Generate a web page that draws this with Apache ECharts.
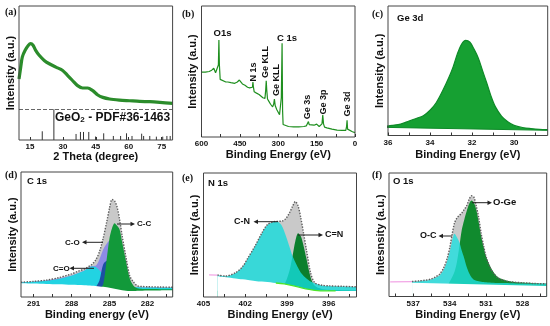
<!DOCTYPE html>
<html><head><meta charset="utf-8">
<script src="https://cdn.jsdelivr.net/npm/echarts@6/dist/echarts.min.js"></script>
<style>html,body{margin:0;padding:0;background:#fff}#c{width:550px;height:326px}</style>
</head><body><div id="c"></div>
<script>
// ---------- (a) XRD ----------
const aX = [10, 10.8, 11.5, 12.8, 14.3, 15.3, 16.4, 17.6, 19.2, 21.5, 23.8, 26.8, 29.9, 32.2, 34.4, 36.7, 39.0, 41.3, 43.6, 45.9, 48.2, 51.3, 55.8, 60.4, 65.0, 69.6, 74.2, 80];
const aY = [45.6, 54.4, 61.9, 66.9, 70.7, 71.9, 70.7, 66.9, 63.2, 59.4, 56.9, 54.4, 51.9, 48.1, 44.4, 40.6, 38.8, 38.8, 36.8, 33.6, 31.8, 30.6, 29.8, 29.3, 28.8, 28.6, 28.1, 27.3];
const pdfPos = [20.6, 25.9, 36.0, 38.0, 39.4, 41.8, 44.9, 48.6, 53.0, 56.3, 59.0, 61.5, 65.9, 66.8, 69.6, 72.6, 75.5, 77.4, 78.9];
const pdfH = [6.5, 23, 4.5, 6, 6, 6, 2.6, 5, 3, 3, 5, 3, 4.7, 3, 3, 2.5, 2.5, 3, 3];
const aRefLine = 23;
const aTicks = [15, 30, 45, 60, 75];

// ---------- (b) XPS survey ----------
const bX = [600,585,570,560,552,545,538,534,532,530,527,520,505,500,497,490,485,470,460,452,448,440,430,420,412,405,401,399,397,394,385,375,368,360,352,349,347,345,342,336,330,322,318,315,312,306,300,295,291,288,285,283,281,275,260,240,220,200,190,185,182,179,175,160,150,140,134,129,126,123,119,110,90,70,50,36,33,31,29,25,10,0];
const bY = [49.5,49.5,50,51,52.5,49,48.5,55,74,55,44,43,42,43.5,42,42.5,41.5,41,42,43.5,42,40.5,39.5,38,37.5,36,38,42,38,34.5,33.5,32.5,32,30,29.5,36,43,36,29,27,25,23,25,29,24,21,19.5,17,16,30,71.5,20,9.5,9,8,7.8,7.8,8,8.5,10,11.8,9.5,8.5,9,9.8,8,7.5,10,16.7,10,7.5,7,6,5.2,5,5,8,12.8,6,4.6,4,3.3];
const bTicks = [600, 525, 450, 375, 300, 225, 150, 75, 0];
const bLabels = [600, 450, 300, 150, 0];

// ---------- (c) Ge 3d ----------
const cX = [36.2, 35.8, 35.4, 35.0, 34.6, 34.3, 34.0, 33.7, 33.4, 33.1, 32.9, 32.7, 32.5, 32.3, 32.1, 31.9, 31.7, 31.5, 31.3, 31.1, 30.9, 30.6, 30.3, 30.0, 29.6, 29.2, 28.8, 28.4];
const cY = [7.0, 7.8, 8.8, 11.2, 13.5, 15.5, 19.5, 25.5, 34.5, 45, 53, 63, 70.5, 73.5, 72, 66.5, 59.7, 50, 40.5, 30.5, 22.5, 15, 10.6, 7.8, 6.2, 5.4, 4.8, 4.5];
const cBaseX = [36.2, 28.4];
const cBaseY = [6.3, 4.0];
const cTicks = [36, 35, 34, 33, 32, 31, 30, 29];
const cLabels = [36, 34, 32, 30];

// ---------- (d) C 1s ----------
const dX = [292, 291, 290, 289, 288, 287.5, 287, 286.7, 286.4, 286.1, 285.8, 285.5, 285.2, 285.0, 284.8, 284.6, 284.4, 284.2, 284.0, 283.7, 283.4, 283.1, 282.8, 282.4, 282, 281, 280];
const dEnv = [11.8, 12.5, 13.5, 15.5, 18.5, 20.5, 22.4, 24, 26, 29.5, 36, 47, 61, 71, 78, 77, 72, 62, 49, 32, 17, 12, 9, 8.4, 8.2, 8, 7.8];
const dSum = [11.8, 12.3, 13.2, 14.8, 17.2, 19.2, 21.2, 23.2, 24.8, 25, 30, 38, 43, 45, 43, 38, 31, 24, 17, 11, 8.5, 8, 7.8, 7.7, 7.6, 7.5, 7.4];
const dCeqO = [11.8, 12.2, 13, 14.5, 17, 19, 21, 23, 24.5, 24, 21.5, 18, 14.5, 12.5, 11, 10, 9.2, 8.7, 8.3, 8.1, 8, 7.9, 7.8, 7.7, 7.6, 7.5, 7.4];
const dCO = [5, 5, 5, 5, 5, 5, 5, 5, 6, 8, 13, 26, 29, 26, 22, 16, 11, 8, 6, 5, 4.8, 4.8, 4.8, 5, 5.2, 5.4, 5.6];
const dCC = [6, 6, 6, 6, 6, 6, 6, 6, 6, 6.2, 7, 10, 32, 47, 55, 59, 57, 54, 44, 29, 15, 9, 7, 6.5, 6.4, 6.3, 6.2];
const dBase = [11, 10.8, 10.5, 10.2, 9.8, 9.6, 9.4, 9.2, 9.0, 8.8, 8.5, 8.2, 7.8, 7.4, 7.0, 6.6, 6.2, 5.8, 5.4, 5.0, 4.8, 4.8, 5.0, 5.1, 5.2, 5.3, 5.4];
const dTicks = [291, 289.5, 288, 286.5, 285, 283.5, 282, 280.5];
const dLabels = [291, 288, 285, 282];

// ---------- (e) N 1s ----------
const eX = [404.0, 403.4, 402.7, 402.2, 401.8, 401.3, 400.8, 400.4, 400.0, 399.7, 399.4, 399.1, 398.8, 398.6, 398.4, 398.2, 398.0, 397.8, 397.6, 397.3, 397.0, 396.5, 396, 395, 394];
const eEnv = [17.7, 16.9, 19.6, 24.4, 31.6, 41, 51.7, 58.4, 60.6, 61, 61.1, 63, 68.3, 73, 77, 73.5, 63.5, 51, 38, 19.5, 11.5, 9.5, 9, 8.6, 8.2];
const eCN = [17.5, 16.7, 19.4, 24.2, 31.4, 40.8, 51.5, 58, 60.4, 60.6, 58, 50, 40, 33, 28, 23.5, 19.5, 17, 15, 12.5, 11, 9.3, 8.8, 8.4, 8.0];
const eCeqN = [5, 5, 5, 5, 5, 5, 5, 5, 5, 5.5, 7, 12, 22, 33, 45, 51.5, 49, 41, 31, 16, 9, 6.5, 5.8, 5.5, 5.3];
const eBase = [16.8, 16, 15, 14.3, 13.7, 13, 12.4, 12, 11.5, 11.2, 10.8, 10.3, 9.7, 9.2, 8.7, 8.2, 7.6, 7, 6.5, 5.8, 5.3, 5.0, 4.9, 4.8, 4.8];
const eLimeX = [399.8, 399.2, 398.6, 398.0, 397.5, 397.0, 396.6, 396.0, 395.5];
const eLimeY = [11.3, 10.5, 9.2, 7.6, 6.3, 5.3, 5.0, 5.0, 5.0];
const ePinkX = [404.6, 404.0];
const ePinkY = [17.8, 17.7];
const eTicks = [405, 403.5, 402, 400.5, 399, 397.5, 396, 394.5];
const eLabels = [405, 402, 399, 396];

// ---------- (f) O 1s ----------
const fX = [537.1, 536.5, 536.0, 535.5, 535.1, 534.8, 534.5, 534.2, 534.0, 533.8, 533.6, 533.4, 533.2, 533.0, 532.8, 532.6, 532.4, 532.2, 532.0, 531.8, 531.6, 531.4, 531.2, 531.0, 530.7, 530.4, 530.0, 529.5, 529.0, 528.0, 527.0, 526.0];
const fEnv = [12.2, 12.7, 13.2, 14.3, 16.2, 18.4, 23, 31, 39.2, 50, 59.5, 63.5, 65.7, 67.6, 70.3, 73.5, 78.4, 81.6, 80.3, 73, 63.5, 50.8, 41, 32.4, 24.3, 18.9, 14.9, 13, 11.9, 11.1, 10.5, 10.3];
const fOC = [12, 12.4, 12.9, 13.8, 15.5, 17.5, 21.5, 29, 36, 45, 50.8, 48, 44, 37, 31, 24, 19, 15.5, 13.5, 12.8, 12.3, 12, 11.8, 11.6, 11.4, 11.2, 11, 10.9, 10.8, 10.6, 10.5, 10.4];
const fOGe = [9, 9, 9, 9, 9, 9, 9, 9, 12, 15.5, 20, 28, 40.5, 54, 62, 69, 75, 77.8, 76, 70, 60, 48.6, 40, 32.4, 25.5, 20, 15.5, 13.5, 12.2, 11.3, 10.8, 10.3];
const fBaseX = [537.1, 526.0];
const fBaseY = [11.2, 8.6];
const fPinkX = [538.9, 537.1];
const fPinkY = [11.9, 12.0];
const fTicks = [538.5, 537, 535.5, 534, 532.5, 531, 529.5, 528, 526.5];
const fLabels = [537, 534, 531, 528];

// ---------- build ----------
const FONT = '"Liberation Sans", Arial, sans-serif';
const chart = echarts.init(document.getElementById('c'), null, {renderer: 'canvas'});

const gridDefs = [
  {left: 19, top: 6, width: 153.6, height: 134},
  {left: 201.5, top: 6, width: 153.5, height: 131},
  {left: 388, top: 6, width: 159.7, height: 129.5},
  {left: 21, top: 172, width: 151.7, height: 125},
  {left: 203.5, top: 173, width: 153, height: 124},
  {left: 389, top: 173, width: 157.7, height: 123.5}
];
const grid = gridDefs.map(g => Object.assign({show: true, borderColor: '#444', borderWidth: 1, backgroundColor: 'rgba(0,0,0,0)', z: 10}, g));

function xa(i, min, max, inverse, ticks, labels, name, gap) {
  return {type: 'value', gridIndex: i, min, max, inverse, z: 12,
    axisLine: {show: false}, splitLine: {show: false},
    axisTick: {show: true, inside: true, length: 3, customValues: ticks, lineStyle: {color: '#333', width: 1}},
    axisLabel: {customValues: labels, margin: 3, fontSize: 8, fontWeight: 'bold', color: '#111', fontFamily: FONT},
    name, nameLocation: 'middle', nameGap: gap,
    nameTextStyle: {fontSize: 11, fontWeight: 'bold', color: '#111', fontFamily: FONT}};
}
function ya(i, name) {
  return {type: 'value', gridIndex: i, min: 0, max: 100,
    axisLine: {show: false}, axisTick: {show: false}, axisLabel: {show: false}, splitLine: {show: false},
    name, nameLocation: 'middle', nameGap: 3, nameRotate: 90,
    nameTextStyle: {fontSize: 11, fontWeight: 'bold', color: '#111', fontFamily: FONT}};
}
const xAxis = [
  xa(0, 10, 80, false, aTicks, aTicks, '2 Theta (degree)', 11),
  xa(1, 0, 600, true, bTicks, bLabels, 'Binding Energy (eV)', 12),
  xa(2, 28.4, 36, true, cTicks, cLabels, 'Binding Energy (eV)', 13.5),
  xa(3, 280, 292, true, dTicks, dLabels, 'Binding energy (eV)', 12.5),
  xa(4, 394, 405, true, eTicks, eLabels, 'Binding Energy (eV)', 12.5),
  xa(5, 526, 539, true, fTicks, fLabels, 'Binding Energy (eV)', 12.5)
];
const yAxis = [
  ya(0, 'Intensity (a.u.)'), ya(1, 'Intensity (a.u.)'), ya(2, 'Intensity (a.u.)'),
  ya(3, 'Intensity (a.u.)'), ya(4, 'Intesnsity (a.u.)'), ya(5, 'Intesnsity (a.u.)')
];

function S(gi, X, Y, o) {
  return Object.assign({type: 'line', xAxisIndex: gi, yAxisIndex: gi,
    data: X.map((x, k) => [x, Y[k]]), showSymbol: false, symbol: 'none',
    silent: true, animation: false, smooth: 0.3, z: 2}, o);
}
function A(gi, X, Y, color, opacity) {
  return S(gi, X, Y, {lineStyle: {width: 0}, areaStyle: {color, opacity: opacity == null ? 1 : opacity}});
}
function ENV(gi, X, Y) {
  return S(gi, X, Y, {lineStyle: {color: '#5e5e5e', width: 1.4, type: 'dotted'}, areaStyle: {color: '#c9c9c9', opacity: 1}});
}
const WHITE = '#ffffff';

const series = [
  // (a)
  S(0, aX, aY, {lineStyle: {color: '#2b8c2b', width: 3.2},
    markLine: {silent: true, symbol: 'none', label: {show: false}, animation: false,
      lineStyle: {type: 'dashed', color: '#666', width: 1}, data: [{yAxis: aRefLine}]}}),
  {type: 'custom', xAxisIndex: 0, yAxisIndex: 0, silent: true, animation: false, z: 3,
    data: pdfPos.map((x, k) => [x, pdfH[k]]),
    renderItem(params, api) {
      const p0 = api.coord([api.value(0), 0]);
      const p1 = api.coord([api.value(0), api.value(1)]);
      return {type: 'line', shape: {x1: p0[0], y1: p0[1], x2: p1[0], y2: p1[1]}, style: {stroke: '#333', lineWidth: 1}};
    }},
  // (b)
  S(1, bX, bY, {lineStyle: {color: '#1f8f1f', width: 1.2}, smooth: false}),
  // (c)
  S(2, cX, cY, {lineStyle: {color: '#0e8a28', width: 1.2}, areaStyle: {color: '#16a032', opacity: 1}}),
  S(2, cBaseX, cBaseY, {lineStyle: {color: '#0e8a28', width: 1}, areaStyle: {color: WHITE, opacity: 1}, smooth: false}),
  // (d)
  ENV(3, dX, dEnv),
  A(3, dX, dSum, '#8d8be6'),
  A(3, dX, dCeqO, '#22d3e2'),
  A(3, dX, dCO, '#1d4fa3'),
  A(3, dX, dCC, '#12993a'),
  A(3, dX, dBase, WHITE),
  // (e)
  ENV(4, eX, eEnv),
  A(4, eX, eCeqN, '#0b7f2c'),
  A(4, eX, eCN, '#14dcdc', 0.8),
  A(4, eX, eBase, WHITE),
  S(4, eLimeX, eLimeY, {lineStyle: {color: '#4ee62a', width: 1.3}}),
  S(4, ePinkX, ePinkY, {lineStyle: {color: '#f2a6e6', width: 1.3}, smooth: false}),
  // (f)
  ENV(5, fX, fEnv),
  A(5, fX, fOGe, '#108a2e'),
  A(5, fX, fOC, '#1fe0e0', 0.8),
  S(5, fBaseX, fBaseY, {lineStyle: {width: 0}, areaStyle: {color: WHITE, opacity: 1}, smooth: false}),
  S(5, fPinkX, fPinkY, {lineStyle: {color: '#f2a6e6', width: 1.3}, smooth: false})
];

// ---------- annotations ----------
function T(x, y, text, size, o) {
  return Object.assign({type: 'text', x, y, silent: true, z: 30,
    style: {text, fill: '#111', font: 'bold ' + size + 'px ' + FONT, align: 'left', verticalAlign: 'middle'}}, o || {});
}
function TC(x, y, text, size) { const t = T(x, y, text, size); t.style.align = 'center'; return t; }
function TR(x, y, text, size) { const t = T(x, y, text, size); t.style.align = 'center'; t.rotation = Math.PI / 2; return t; }
function P(x, y, text) {
  return {type: 'text', x, y, silent: true, z: 30,
    style: {text, fill: '#111', font: 'bold 10px "Liberation Serif", "Times New Roman", serif', align: 'left', verticalAlign: 'middle'}};
}
function ARW(x1, y, x2) {
  const d = Math.sign(x2 - x1);
  return [
    {type: 'line', silent: true, z: 30, shape: {x1, y1: y, x2: x2 - d * 3, y2: y}, style: {stroke: '#222', lineWidth: 1}},
    {type: 'polygon', silent: true, z: 30, shape: {points: [[x2, y], [x2 - d * 4.5, y - 2.2], [x2 - d * 4.5, y + 2.2]]}, style: {fill: '#222'}}
  ];
}

const graphic = [
  P(5, 12, '(a)'), P(182, 14, '(b)'), P(372, 14, '(c)'),
  P(5, 175, '(d)'), P(182, 178, '(e)'), P(372, 175, '(f)'),
  T(397, 18.3, 'Ge 3d', 9.5), T(27, 181.7, 'C 1s', 9.5), T(208, 183.3, 'N 1s', 9.5), T(393, 181.7, 'O 1s', 9.5),
  {type: 'text', x: 55, y: 118, silent: true, z: 30,
    style: {text: '{n|GeO}{s|2}{n| - PDF#36-1463}', align: 'left', verticalAlign: 'middle',
      rich: {n: {font: 'bold 12px ' + FONT, fill: '#111', verticalAlign: 'middle'},
             s: {font: 'bold 8px ' + FONT, fill: '#111', verticalAlign: 'bottom'}}}},
  TC(222.5, 33, 'O1s', 9.5), TC(287, 38, 'C 1s', 9.5),
  TR(254, 72, 'N 1s', 9), TR(266, 62, 'Ge KLL', 9), TR(277, 80, 'Ge KLL', 9),
  TR(308, 107, 'Ge 3s', 9), TR(324, 102, 'Ge 3p', 9), TR(348, 104, 'Ge 3d', 9),
  T(137, 224, 'C-C', 8), ...ARW(117, 224, 135),
  T(65, 242.3, 'C-O', 8), ...ARW(103, 242.3, 82),
  T(53, 268.3, 'C=O', 8), ...ARW(94, 268.3, 69.5),
  T(234, 221.7, 'C-N', 9), ...ARW(278, 221.7, 253.5),
  T(325, 235, 'C=N', 9), ...ARW(298, 235, 323),
  T(493, 202.7, 'O-Ge', 9.5), ...ARW(472, 202.7, 492),
  T(420, 236, 'O-C', 9), ...ARW(452, 236, 438.5)
];

chart.setOption({animation: false, backgroundColor: '#fff', textStyle: {fontFamily: FONT},
  grid, xAxis, yAxis, series, graphic});
</script></body></html>
